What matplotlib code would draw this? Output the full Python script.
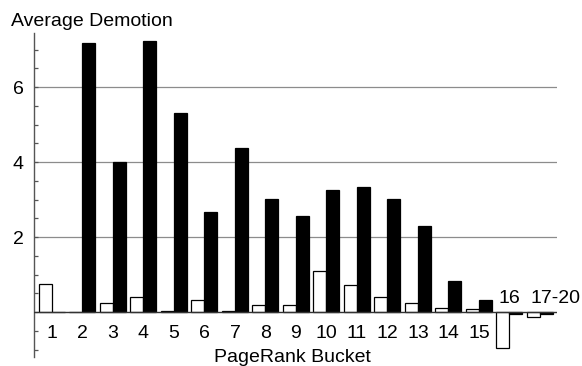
import matplotlib
matplotlib.use("Agg")
import matplotlib.pyplot as plt
import matplotlib.transforms as mtransforms
import numpy as np
from matplotlib.ticker import MultipleLocator

plt.rcParams['font.family'] = ['Liberation Sans', 'DejaVu Sans']

buckets = ["1", "2", "3", "4", "5", "6", "7", "8", "9", "10",
           "11", "12", "13", "14", "15", "16", "17-20"]
white_series = [0.76, 0.01, 0.23, 0.39, 0.03, 0.32, 0.03, 0.20, 0.19, 1.09,
                0.72, 0.39, 0.24, 0.10, 0.09, -0.97, -0.12]
black_series = [0.01, 7.17, 4.01, 7.24, 5.30, 2.66, 4.38, 3.01, 2.56, 3.26,
                3.34, 3.01, 2.29, 0.83, 0.32, -0.05, -0.05]
y_ticks = [2, 4, 6]

W, H = 582, 366
DPI = 100
FS = 14
fig = plt.figure(figsize=(W / DPI, H / DPI), dpi=DPI)
ax = fig.add_axes([34 / W, (H - 356.7) / H, (557 - 34) / W, (356.7 - 33) / H])

x = np.arange(len(buckets))
bw = 0.426
ax.bar(x - bw / 2, white_series, width=bw, color="white", edgecolor="black",
       linewidth=0.9, zorder=3)
ax.bar(x + bw / 2, black_series, width=bw, color="black", edgecolor="black",
       linewidth=0.9, zorder=3)

ax.set_xlim(-0.59, 16.56)
ax.set_ylim(-1.19, 7.44)

for yv in y_ticks:
    ax.axhline(yv, color="#8c8c8c", linewidth=0.9, zorder=1)
ax.axhline(0, color="#333333", linewidth=1.0, zorder=4)

for sp in ["top", "right", "bottom"]:
    ax.spines[sp].set_visible(False)
ax.spines["left"].set_color("#555555")
ax.spines["left"].set_linewidth(1.0)

ax.set_xticks([])
ax.set_yticks(y_ticks)
ax.yaxis.set_minor_locator(MultipleLocator(0.5))
ax.tick_params(axis="y", which="major", direction="in", length=3, width=0.9,
               color="#555555", labelsize=FS, pad=7.5)
ax.tick_params(axis="y", which="minor", direction="in", length=3, width=0.9,
               color="#555555")

# bucket labels: below the zero line, or above it where the bars go negative
px = 72 / DPI
below = mtransforms.offset_copy(ax.transData, fig=fig, x=0, y=-26 * px, units="points")
above = mtransforms.offset_copy(ax.transData, fig=fig, x=0, y=9 * px, units="points")
above_left = mtransforms.offset_copy(ax.transData, fig=fig, x=-9 * px, y=9 * px,
                                     units="points")
for i, lab in enumerate(buckets):
    if lab == "17-20":
        ax.text(i, 0, lab, ha="left", va="baseline", fontsize=FS,
                transform=above_left, clip_on=False)
    elif white_series[i] < -0.05:
        ax.text(i, 0, lab, ha="center", va="baseline", fontsize=FS,
                transform=above)
    else:
        ax.text(i, 0, lab, ha="center", va="baseline", fontsize=FS,
                transform=below)

fig.text(11 / W, 1 - 26.5 / H, "Average Demotion", ha="left", va="baseline",
         fontsize=FS)
fig.text(292.5 / W, 1 - 362.5 / H, "PageRank Bucket", ha="center", va="baseline",
         fontsize=FS)

fig.savefig("out.png", dpi=DPI)
